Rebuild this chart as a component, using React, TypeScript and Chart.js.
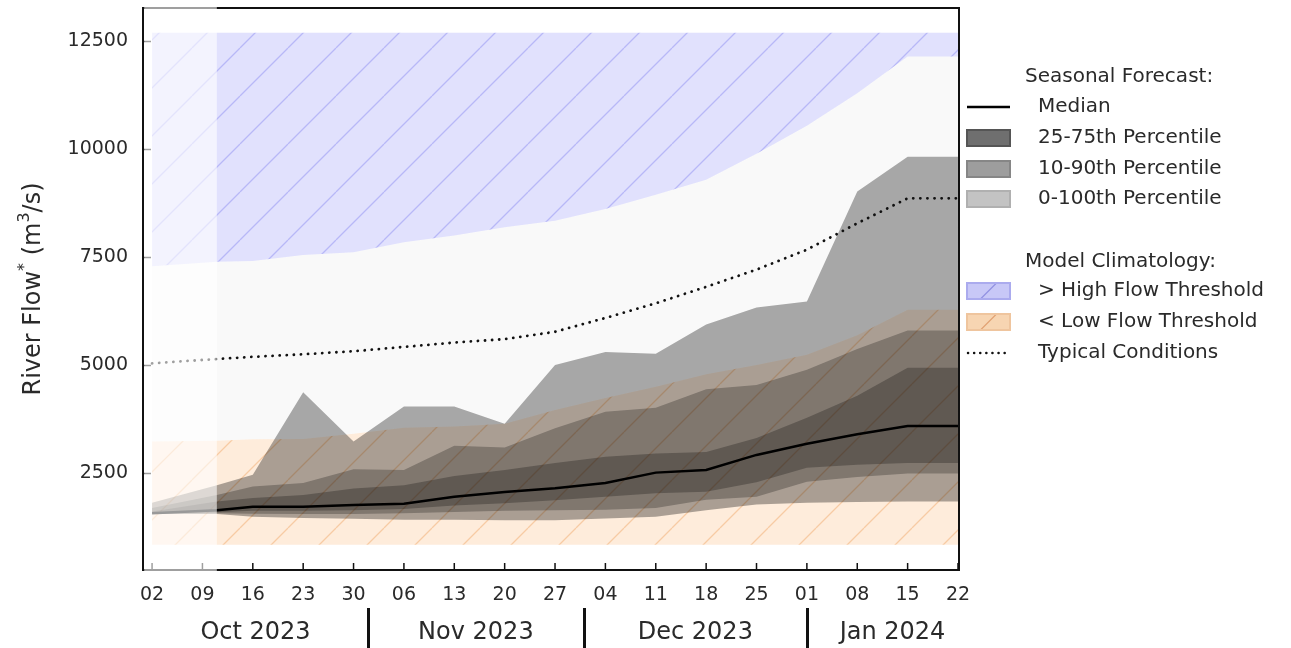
import React, { useEffect, useRef } from 'react';
import { Chart, registerables } from 'chart.js';

Chart.register(...registerables);

const FONT = '"DejaVu Sans", "Liberation Sans", sans-serif';
const TEXT = '#2a2a2a';

// x positions: weeks since 02 Oct 2023 (1.286 = forecast start, 11 Oct)
const weekPos = [0, 1.286, 2, 3, 4, 5, 6, 7, 8, 9, 10, 11, 12, 13, 14, 15, 16];
const tickPos = [0, 1, 2, 3, 4, 5, 6, 7, 8, 9, 10, 11, 12, 13, 14, 15, 16];
const dayTicks = ['02', '09', '16', '23', '30', '06', '13', '20', '27', '04', '11', '18', '25', '01', '08', '15', '22'];
const monthLabels = ['Oct 2023', 'Nov 2023', 'Dec 2023', 'Jan 2024'];
const monthEdges = [-0.18, 4.286, 8.571, 13, 16.4];
const forecastStart = 1.286;
const yTicks = [2500, 5000, 7500, 10000, 12500];

// Seasonal forecast (m3/s)
const median = [1580, 1650, 1730, 1730, 1770, 1800, 1960, 2070, 2160, 2280, 2520, 2580, 2930, 3190, 3410, 3600, 3600];
const p25 = [1580, 1600, 1640, 1640, 1650, 1680, 1760, 1810, 1880, 1960, 2040, 2080, 2300, 2630, 2700, 2740, 2740];
const p75 = [1620, 1850, 1930, 2000, 2150, 2230, 2440, 2580, 2740, 2890, 2960, 3000, 3320, 3790, 4300, 4950, 4950];
const p10 = [1570, 1580, 1570, 1560, 1560, 1580, 1610, 1640, 1650, 1660, 1700, 1890, 1960, 2310, 2420, 2500, 2500];
const p90 = [1700, 2000, 2200, 2280, 2600, 2580, 3140, 3100, 3550, 3930, 4020, 4450, 4550, 4900, 5380, 5810, 5810];
const p0 = [1560, 1560, 1500, 1470, 1450, 1430, 1430, 1420, 1420, 1460, 1500, 1650, 1780, 1820, 1840, 1850, 1850];
const p100 = [1820, 2230, 2470, 4380, 3240, 4050, 4050, 3650, 5010, 5310, 5270, 5950, 6340, 6480, 9030, 9830, 9830];

// Model climatology
const typical = [5050, 5150, 5200, 5260, 5330, 5430, 5530, 5610, 5780, 6100, 6440, 6820, 7220, 7680, 8290, 8870, 8870];
const lowThreshold = [3240, 3260, 3290, 3300, 3420, 3560, 3590, 3650, 3970, 4250, 4510, 4800, 5010, 5250, 5700, 6290, 6290];
const highThreshold = [7300, 7400, 7420, 7560, 7620, 7850, 8010, 8200, 8350, 8620, 8950, 9300, 9900, 10550, 11300, 12150, 12150];
const climFloor = [850, 850, 850, 850, 850, 850, 850, 850, 850, 850, 850, 850, 850, 850, 850, 850, 850];
const climCeiling = [12700, 12700, 12700, 12700, 12700, 12700, 12700, 12700, 12700, 12700, 12700, 12700, 12700, 12700, 12700, 12700, 12700];

const legendHeaders = ['Seasonal Forecast:', 'Model Climatology:'];
const legendForecast = ['Median', '25-75th Percentile', '10-90th Percentile', '0-100th Percentile'];
const legendClim = ['> High Flow Threshold', '< Low Flow Threshold', 'Typical Conditions'];

function hatch(base: string, line: string, period = 48): CanvasPattern | string {
  const c = document.createElement('canvas');
  c.width = period;
  c.height = period;
  const g = c.getContext('2d');
  if (!g) return base;
  g.fillStyle = base;
  g.fillRect(0, 0, period, period);
  g.strokeStyle = line;
  g.lineWidth = 1.3;
  g.beginPath();
  for (const o of [-period, 0, period]) {
    g.moveTo(o, period);
    g.lineTo(o + period, 0);
  }
  g.stroke();
  return g.createPattern(c, 'repeat') || base;
}

function series(values: number[], extra: any) {
  return {
    type: 'line',
    data: weekPos.map((x, i) => ({ x, y: values[i] })),
    pointRadius: 0,
    pointHoverRadius: 0,
    borderWidth: 0,
    tension: 0,
    fill: false,
    ...extra,
  };
}

const decorPlugin = {
  id: 'decor',
  afterDraw(chart: any) {
    const { ctx, chartArea, scales } = chart;
    const xs = scales.x;
    const ys = scales.y;
    const { left, right, top, bottom } = chartArea;
    ctx.save();

    // spines
    ctx.strokeStyle = '#111';
    ctx.lineWidth = 2;
    ctx.strokeRect(left, top, right - left, bottom - top);

    // inward ticks
    ctx.lineWidth = 1.5;
    ctx.beginPath();
    for (const v of tickPos) {
      const x = xs.getPixelForValue(v);
      ctx.moveTo(x, bottom);
      ctx.lineTo(x, bottom - 7);
    }
    for (const v of yTicks) {
      const y = ys.getPixelForValue(v);
      ctx.moveTo(left, y);
      ctx.lineTo(left + 8, y);
    }
    ctx.stroke();

    // whitened hindcast period
    const xf = xs.getPixelForValue(forecastStart);
    ctx.fillStyle = 'rgba(255,255,255,0.6)';
    ctx.fillRect(left + 1.2, top - 2, xf - left - 1.2, bottom - top + 4);

    // y title with superscripts
    const fs = 24;
    const parts: [string, boolean][] = [['River Flow', false], ['*', true], [' (m', false], ['3', true], ['/s)', false]];
    const fNorm = `${fs}px ${FONT}`;
    const fSup = `${Math.round(fs * 0.68)}px ${FONT}`;
    let total = 0;
    for (const [t, sup] of parts) {
      ctx.font = sup ? fSup : fNorm;
      total += ctx.measureText(t).width;
    }
    ctx.save();
    ctx.translate(34, (top + bottom) / 2);
    ctx.rotate(-Math.PI / 2);
    ctx.fillStyle = TEXT;
    ctx.textBaseline = 'middle';
    ctx.textAlign = 'left';
    let cx = -total / 2;
    for (const [t, sup] of parts) {
      ctx.font = sup ? fSup : fNorm;
      ctx.fillText(t, cx, sup ? -fs * 0.38 : 0);
      cx += ctx.measureText(t).width;
    }
    ctx.restore();

    // month separators and labels
    ctx.strokeStyle = '#111';
    ctx.lineWidth = 3;
    ctx.beginPath();
    for (let i = 1; i < monthEdges.length - 1; i++) {
      const x = Math.round(xs.getPixelForValue(monthEdges[i])) + 0.5;
      ctx.moveTo(x, 608);
      ctx.lineTo(x, 648);
    }
    ctx.stroke();
    ctx.font = `24px ${FONT}`;
    ctx.fillStyle = TEXT;
    ctx.textAlign = 'center';
    ctx.textBaseline = 'middle';
    monthLabels.forEach((m, i) => {
      const a = xs.getPixelForValue(monthEdges[i]);
      const b = xs.getPixelForValue(monthEdges[i + 1]);
      ctx.fillText(m, (a + b) / 2, 633);
    });

    // legend
    const bx = 967;
    const bw = 43;
    const tx = 1038;
    const hx = 1025;
    ctx.font = `20px ${FONT}`;
    ctx.textAlign = 'left';
    ctx.textBaseline = 'middle';
    ctx.fillStyle = TEXT;
    ctx.fillText(legendHeaders[0], hx, 77);
    ctx.fillText(legendHeaders[1], hx, 262);
    const fy = [107, 138, 169, 199];
    legendForecast.forEach((t, i) => ctx.fillText(t, tx, fy[i]));
    const cy = [291, 322, 353];
    legendClim.forEach((t, i) => ctx.fillText(t, tx, cy[i]));

    // median swatch
    ctx.strokeStyle = '#000';
    ctx.lineWidth = 2.5;
    ctx.beginPath();
    ctx.moveTo(bx, fy[0]);
    ctx.lineTo(bx + bw, fy[0]);
    ctx.stroke();

    const box = (y: number, fill: string, stroke: string, line?: string) => {
      const h = 16;
      ctx.fillStyle = fill;
      ctx.fillRect(bx, y - h / 2, bw, h);
      if (line) {
        ctx.save();
        ctx.beginPath();
        ctx.rect(bx, y - h / 2, bw, h);
        ctx.clip();
        ctx.strokeStyle = line;
        ctx.lineWidth = 1.2;
        ctx.beginPath();
        ctx.moveTo(bx + bw / 2 - 10, y + h / 2 + 2);
        ctx.lineTo(bx + bw / 2 + 10, y - h / 2 - 2);
        ctx.stroke();
        ctx.restore();
      }
      ctx.strokeStyle = stroke;
      ctx.lineWidth = 2;
      ctx.strokeRect(bx, y - h / 2, bw, h);
    };
    box(fy[1], '#6f6f6f', '#555555');
    box(fy[2], '#9d9d9d', '#868686');
    box(fy[3], '#c3c3c3', '#b0b0b0');
    box(cy[0], '#c8c8f7', '#ababee', '#9090e0');
    box(cy[1], '#f7d5b2', '#efc59e', '#e0a070');

    // typical swatch
    ctx.strokeStyle = '#111';
    ctx.lineWidth = 2.5;
    ctx.lineCap = 'round';
    ctx.setLineDash([0.1, 6]);
    ctx.beginPath();
    ctx.moveTo(bx + 1, cy[2]);
    ctx.lineTo(bx + bw, cy[2]);
    ctx.stroke();
    ctx.setLineDash([]);

    ctx.restore();
  },
};

export default function App() {
  const ref = useRef<HTMLCanvasElement>(null);

  useEffect(() => {
    const canvas = ref.current;
    if (!canvas) return;
    const orangeHatch = hatch('rgba(250,170,90,0.22)', 'rgba(235,140,60,0.35)');
    const blueHatch = hatch('rgba(120,120,245,0.22)', 'rgba(90,90,235,0.3)');

    const datasets: any[] = [
      series(climFloor, { order: 9 }),
      series(lowThreshold, { order: 9, fill: { target: 0 }, backgroundColor: orangeHatch }),
      series(highThreshold, { order: 10, fill: { target: 1 }, backgroundColor: 'rgba(0,0,0,0.025)' }),
      series(climCeiling, { order: 10, fill: { target: 2 }, backgroundColor: blueHatch }),
      series(p0, { order: 8 }),
      series(p100, { order: 8, fill: { target: 4 }, backgroundColor: 'rgba(0,0,0,0.33)' }),
      series(p10, { order: 7 }),
      series(p90, { order: 7, fill: { target: 6 }, backgroundColor: 'rgba(0,0,0,0.25)' }),
      series(p25, { order: 6 }),
      series(p75, { order: 6, fill: { target: 8 }, backgroundColor: 'rgba(0,0,0,0.25)' }),
      series(typical, {
        order: 2,
        borderColor: '#111',
        borderWidth: 2.8,
        borderDash: [0.1, 7],
        borderCapStyle: 'round',
      }),
      series(median, { order: 1, borderColor: '#000', borderWidth: 2.5 }),
    ];

    const chart = new Chart(canvas, {
      type: 'line',
      data: { datasets },
      options: {
        animation: false,
        responsive: false,
        devicePixelRatio: 1,
        events: [],
        layout: { padding: { top: 8, right: 332, left: 0, bottom: 0 } },
        plugins: { legend: { display: false }, tooltip: { enabled: false } },
        scales: {
          x: {
            type: 'linear',
            min: -0.18,
            max: 16.02,
            grid: { display: false, drawTicks: false },
            border: { display: false },
            afterBuildTicks: (s: any) => {
              s.ticks = tickPos.map((v) => ({ value: v }));
            },
            afterFit: (s: any) => {
              s.height = 78;
              s.paddingLeft = 0;
              s.paddingRight = 0;
            },
            ticks: {
              autoSkip: false,
              maxRotation: 0,
              padding: 14,
              color: TEXT,
              font: { family: FONT, size: 19 },
              callback: (v: any) => dayTicks[Math.round(Number(v))] ?? '',
            },
          },
          y: {
            type: 'linear',
            min: 266,
            max: 13275,
            grid: { display: false, drawTicks: false },
            border: { display: false },
            afterBuildTicks: (s: any) => {
              s.ticks = yTicks.map((v) => ({ value: v }));
            },
            afterFit: (s: any) => {
              s.width = 143;
              s.paddingTop = 0;
              s.paddingBottom = 0;
            },
            ticks: {
              padding: 15,
              color: TEXT,
              font: { family: FONT, size: 19 },
              callback: (v: any) => String(v),
            },
          },
        },
      },
      plugins: [decorPlugin],
    } as any);

    return () => chart.destroy();
  }, []);

  return (
    <div style={{ position: 'absolute', left: 0, top: 0, width: 1291, height: 648, background: '#fff' }}>
      <canvas ref={ref} width={1291} height={648} style={{ display: 'block', width: 1291, height: 648 }} />
    </div>
  );
}
